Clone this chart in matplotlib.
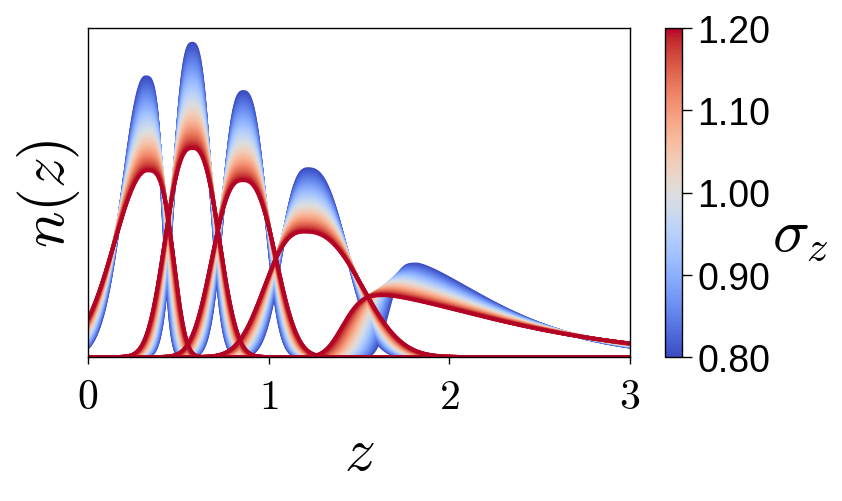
import numpy as np
import matplotlib
matplotlib.use("Agg")
import matplotlib.pyplot as plt
from matplotlib import colors, cm

plt.rcParams['mathtext.fontset'] = 'cm'

# --- data: tomographic bins (shape at sigma_z = 1, stretched about pivot) ---
bin_mode = [0.3235, 0.577, 0.858, 1.2095, 1.735]
bin_pivot = [0.300, 0.577, 0.867, 1.257, 2.160]
bin_peak = [2.248, 2.518, 2.130, 1.510, 0.744]
left_width = [0.217, 0.155, 0.175, 0.230, 0.224]
left_power = [2.0, 2.6, 2.6, 2.6, 3.5]
right_width = [0.139, 0.155, 0.189, 0.330, 0.833]
right_power = [3.3, 2.6, 2.6, 2.5, 1.38]

sigma_min, sigma_max = 0.8, 1.2
sigma_values = np.linspace(sigma_min, sigma_max, 81)
cbar_ticks = [0.80, 0.90, 1.00, 1.10, 1.20]
x_ticks = [0, 1, 2, 3]

z = np.linspace(0, 3, 1500)


def nz(i, s):
    u = (z - bin_pivot[i]) / s + bin_pivot[i]
    d = u - bin_mode[i]
    w = np.where(d < 0, left_width[i], right_width[i])
    p = np.where(d < 0, left_power[i], right_power[i])
    return bin_peak[i] / s * np.exp(-np.abs(d / w) ** p)


fig = plt.figure(figsize=(8.42, 5.02), dpi=100)
ax = fig.add_axes([88 / 842, 1 - 358 / 502, (630 - 88) / 842, (358 - 29) / 502])
cax = fig.add_axes([665 / 842, 1 - 358 / 502, 17 / 842, (358 - 29) / 502])

cmap = plt.get_cmap('coolwarm')
norm = colors.Normalize(vmin=sigma_min, vmax=sigma_max)

for s in sigma_values:
    for i in range(len(bin_mode)):
        ax.plot(z, nz(i, s), color=cmap(norm(s)), lw=2.7, solid_capstyle='butt')

ymax = max(bin_peak[i] / sigma_min for i in range(len(bin_peak)))
ax.set_xlim(0, 3)
ax.set_ylim(0, 1.05 * ymax)
ax.set_yticks([])
ax.set_xticks(x_ticks)
ax.set_xticklabels([r'$%d$' % t for t in x_ticks], fontsize=30)
ax.tick_params(axis='x', direction='out', length=5, width=1, pad=8)
for sp in ax.spines.values():
    sp.set_linewidth(1.0)
ax.set_xlabel(r'$z$', fontsize=44)
ax.set_ylabel(r'$n(z)$', fontsize=44)

sm = cm.ScalarMappable(norm=norm, cmap=cmap)
sm.set_array([])
cbar = fig.colorbar(sm, cax=cax, ticks=cbar_ticks)
cbar.ax.set_yticklabels(['%.2f' % t for t in cbar_ticks], fontsize=27,
                        family='Liberation Sans')
cbar.ax.tick_params(direction='out', length=7, width=1, pad=4)
cbar.outline.set_linewidth(1.0)
cbar.ax.set_ylabel(r'$\sigma_z$', fontsize=44, rotation=0, va='center', ha='center')
cbar.ax.yaxis.set_label_coords(7.94, 0.378)

fig.savefig('out.png', dpi=100)
